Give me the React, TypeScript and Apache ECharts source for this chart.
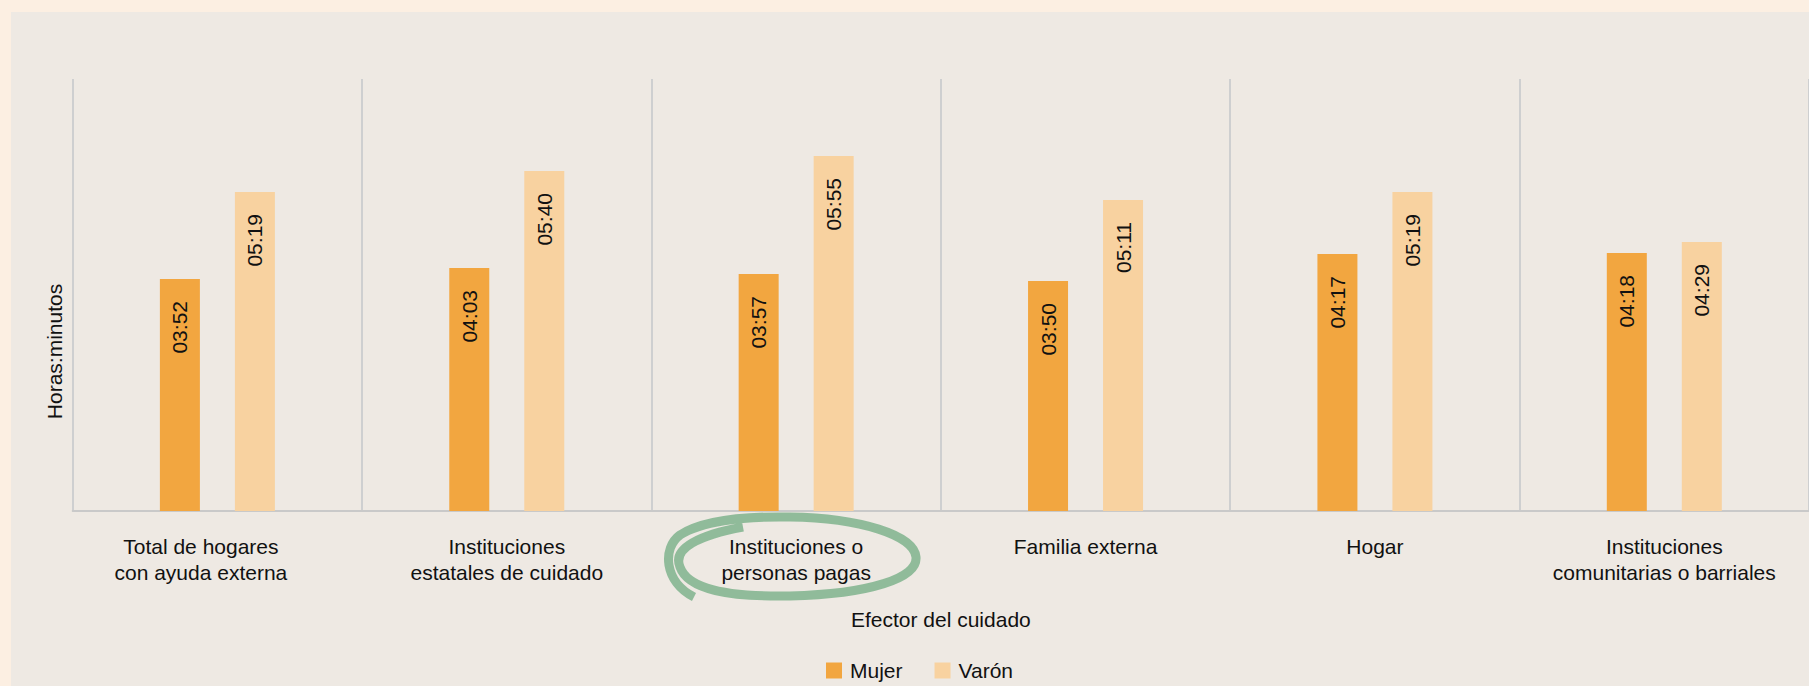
import React, { useEffect, useRef } from "react";
import * as echarts from "echarts";

const categories = [
  "Total de hogares\ncon ayuda externa",
  "Instituciones\nestatales de cuidado",
  "Instituciones o\npersonas pagas",
  "Familia externa",
  "Hogar",
  "Instituciones\ncomunitarias o barriales",
];
// values in minutes (hh:mm)
const mujer = [232, 243, 237, 230, 257, 258];
const varon = [319, 340, 355, 311, 319, 269];
const seriesNames = ["Mujer", "Varón"];
const yMax = 432; // 0.3 days
const xTitle = "Efector del cuidado";
const yTitle = "Horas:minutos";

const FONT = "'Liberation Sans', Arial, Helvetica, sans-serif";
const ellipsePath =
  "M 743 527 C 700 535 672 548 680 567 C 688 590 730 597 790 596 C 870 594 918 578 916 557 C 914 535 860 518 790 517 C 740 516 700 522 680 535 C 662 548 664 582 694 597";

const fmt = (v: number) => {
  const h = Math.floor(v / 60);
  const m = v % 60;
  return String(h).padStart(2, "0") + ":" + String(m).padStart(2, "0");
};

export default function App() {
  const ref = useRef<HTMLDivElement>(null);
  useEffect(() => {
    document.body.style.margin = "0";
    echarts.graphic.registerShape("logo", echarts.graphic.extendPath(ellipsePath, {}));
    const chart = echarts.init(ref.current!, null, { renderer: "svg" });
    const label = {
      show: true,
      position: "insideTop" as const,
      rotate: 90,
      align: "right",
      verticalAlign: "middle",
      distance: 22,
      fontSize: 21,
      fontFamily: FONT,
      color: "#111",
      formatter: (p: any) => fmt(p.value),
    };
    const catData = categories.map((c, i) =>
      i === 0 ? { value: c, textStyle: { padding: [0, 33, 0, 0] } } : c
    );
    chart.setOption({
      animation: false,
      backgroundColor: "#fcefe2",
      textStyle: { fontFamily: FONT },
      graphic: [
        {
          type: "rect",
          z: -10,
          silent: true,
          shape: { x: 11, y: 12, width: 1809, height: 686 },
          style: { fill: "#eee9e3" },
        },
        {
          type: "text",
          x: 54.5,
          y: 351.5,
          rotation: Math.PI / 2,
          style: {
            text: yTitle,
            fontSize: 21,
            fontFamily: FONT,
            fill: "#111",
            align: "center",
            verticalAlign: "middle",
          },
        },
        {
          type: "logo",
          x: 0,
          y: 0,
          z: 10,
          style: { fill: "none", stroke: "#8ab896", lineWidth: 9, opacity: 0.95 },
        },
      ],
      grid: { left: 72.7, right: -4.3, top: 79, bottom: 175, containLabel: false },
      legend: {
        data: seriesNames,
        left: 821,
        top: 655,
        icon: "rect",
        itemWidth: 16,
        itemHeight: 16,
        itemGap: 32,
        textStyle: { fontSize: 21, fontFamily: FONT, color: "#111", padding: [0, 0, 0, 3] },
      },
      xAxis: {
        type: "category",
        data: catData,
        name: xTitle,
        nameLocation: "middle",
        nameGap: 98,
        nameTextStyle: { fontSize: 21, fontFamily: FONT, color: "#111" },
        axisLine: { lineStyle: { color: "#c9c9c9", width: 2 } },
        axisTick: { show: false },
        axisLabel: {
          interval: 0,
          fontSize: 21,
          lineHeight: 26,
          margin: 22,
          color: "#111",
          fontFamily: FONT,
        },
        splitLine: { show: true, lineStyle: { color: "#c3c6ca", width: 1.5 } },
      },
      yAxis: {
        type: "value",
        min: 0,
        max: yMax,
        show: false,
        splitLine: { show: false },
      },
      series: [
        {
          name: seriesNames[0],
          type: "bar",
          data: mujer,
          barWidth: 40,
          barGap: "87.5%",
          itemStyle: { color: "#f2a640" },
          label,
        },
        {
          name: seriesNames[1],
          type: "bar",
          data: varon,
          barWidth: 40,
          barGap: "87.5%",
          itemStyle: { color: "#f8d2a0" },
          label,
        },
      ],
    });
    return () => chart.dispose();
  }, []);
  return <div ref={ref} style={{ width: 1809, height: 686 }} />;
}
